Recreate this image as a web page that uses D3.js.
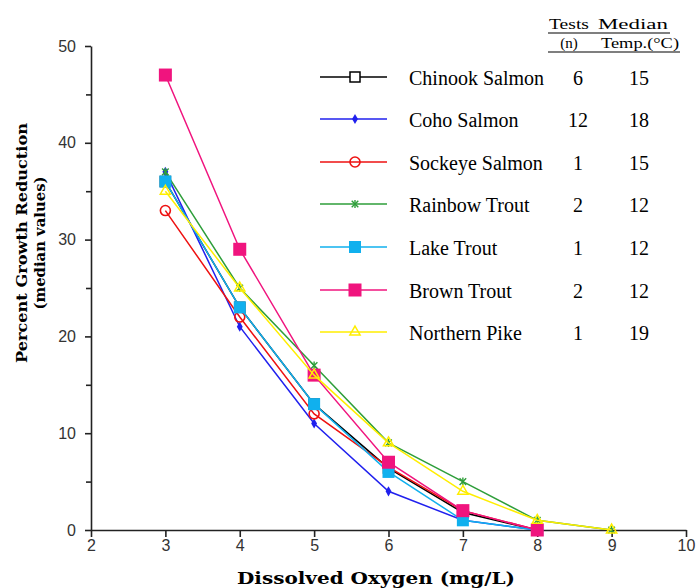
<!DOCTYPE html>
<html>
<head>
<meta charset="utf-8">
<script src="https://cdn.jsdelivr.net/npm/d3@7"></script>
<style>
  body { margin: 0; background: #fff; }
  svg { display: block; }
</style>
</head>
<body>
<svg id="chart" width="696" height="588"></svg>
<script>
const oxygen = [3, 4, 5, 6, 7, 8, 9];

const species = ['Chinook Salmon', 'Coho Salmon', 'Sockeye Salmon', 'Rainbow Trout', 'Lake Trout', 'Brown Trout', 'Northern Pike'];
const tests = ['6', '12', '1', '2', '1', '2', '1'];
const medianTemp = ['15', '18', '15', '12', '12', '12', '19'];

// median percent growth reduction at each DO level (null = no value)
const chinook = [36, 23, 13, 6.4, 1.8, 0, null];
const coho = [37, 21, 11, 4, 1, 0, null];
const sockeye = [33, 22, 12, 6.5, 2, 0, null];
const rainbow = [37, 25, 17, 9, 5, 1, 0];
const lakeTrout = [36, 23, 13, 6, 1, 0, null];
const brownTrout = [47, 29, 16, 7, 2, 0, null];
const pike = [35, 25, 16, 9, 4, 1, 0];

const seriesValues = [chinook, coho, sockeye, rainbow, lakeTrout, brownTrout, pike];
const colors = ['#000000', '#2020ee', '#ee1111', '#2e9e3a', '#10b0ee', '#f0147e', '#ffee00'];
const markers = ['openSquare', 'diamond', 'openCircle', 'star', 'square', 'bigSquare', 'triangle'];

const xTicks = [2, 3, 4, 5, 6, 7, 8, 9, 10];
const yTicks = [0, 10, 20, 30, 40, 50];
const yMinor = [5, 15, 25, 35, 45];

const svg = d3.select('#chart');
const x = d3.scaleLinear().domain([2, 10]).range([91, 686]);
const y = d3.scaleLinear().domain([0, 50]).range([530, 46]);

// axes
svg.append('g')
    .attr('transform', `translate(0,${y(0)})`)
    .call(d3.axisBottom(x).tickValues(xTicks).tickSize(7).tickPadding(3).tickSizeOuter(0));
svg.append('g')
    .attr('transform', `translate(${x(2)},0)`)
    .call(d3.axisLeft(y).tickValues(yTicks).tickSize(6).tickPadding(9).tickSizeOuter(0));
svg.append('g')
    .attr('transform', `translate(${x(2)},0)`)
    .call(d3.axisLeft(y).tickValues(yMinor).tickSize(5).tickFormat('').tickSizeOuter(0))
    .select('.domain').remove();

svg.selectAll('.domain, .tick line').attr('stroke', '#222').attr('stroke-width', 1.6);
svg.selectAll('.tick text')
    .attr('fill', '#333')
    .style('font-family', '"Liberation Sans", Arial, sans-serif')
    .style('font-size', '16px');

// axis titles
svg.append('text')
    .attr('x', 376).attr('y', 584)
    .attr('text-anchor', 'middle')
    .attr('textLength', 278)
    .attr('lengthAdjust', 'spacingAndGlyphs')
    .style('font-family', '"DejaVu Serif", serif')
    .style('font-weight', 'bold')
    .style('font-size', '17px')
    .text('Dissolved Oxygen (mg/L)');

const yTitle = svg.append('g').attr('transform', 'translate(27,243) rotate(-90)');
yTitle.append('text')
    .attr('text-anchor', 'middle')
    .attr('textLength', 240)
    .attr('lengthAdjust', 'spacingAndGlyphs')
    .style('font-family', '"DejaVu Serif", serif')
    .style('font-weight', 'bold')
    .style('font-size', '15px')
    .text('Percent Growth Reduction');
yTitle.append('text')
    .attr('y', 18)
    .attr('text-anchor', 'middle')
    .attr('textLength', 133)
    .attr('lengthAdjust', 'spacingAndGlyphs')
    .style('font-family', '"DejaVu Serif", serif')
    .style('font-weight', 'bold')
    .style('font-size', '15px')
    .text('(median values)');

function drawMarker(g, type, color, cx, cy) {
    if (type === 'openSquare') {
        g.append('rect').attr('x', cx - 5).attr('y', cy - 5).attr('width', 10).attr('height', 10)
            .attr('fill', '#fff').attr('stroke', color).attr('stroke-width', 1.5);
    } else if (type === 'diamond') {
        g.append('path').attr('d', d3.symbol(d3.symbolDiamond, 30)())
            .attr('transform', `translate(${cx},${cy})`).attr('fill', color);
    } else if (type === 'openCircle') {
        g.append('circle').attr('cx', cx).attr('cy', cy).attr('r', 5)
            .attr('fill', 'none').attr('stroke', color).attr('stroke-width', 1.6);
    } else if (type === 'star') {
        g.append('path').attr('d', d3.symbol(d3.symbolTimes, 30)())
            .attr('transform', `translate(${cx},${cy})`).attr('stroke', color).attr('stroke-width', 1.4);
        g.append('line').attr('x1', cx).attr('x2', cx).attr('y1', cy - 4).attr('y2', cy + 4)
            .attr('stroke', color).attr('stroke-width', 1.4);
    } else if (type === 'square') {
        g.append('rect').attr('x', cx - 6).attr('y', cy - 6).attr('width', 12).attr('height', 12)
            .attr('fill', color);
    } else if (type === 'bigSquare') {
        g.append('rect').attr('x', cx - 6.5).attr('y', cy - 6.5).attr('width', 13).attr('height', 13)
            .attr('fill', color);
    } else if (type === 'triangle') {
        g.append('path').attr('d', d3.symbol(d3.symbolTriangle, 45)())
            .attr('transform', `translate(${cx},${cy})`)
            .attr('fill', 'none').attr('stroke', color).attr('stroke-width', 1.5);
    }
}

const line = d3.line()
    .defined(d => d.v !== null)
    .x(d => x(d.x))
    .y(d => y(d.v));

seriesValues.forEach((vals, i) => {
    const pts = vals.map((v, j) => ({ x: oxygen[j], v: v }));
    const g = svg.append('g');
    g.append('path')
        .attr('d', line(pts))
        .attr('fill', 'none')
        .attr('stroke', colors[i])
        .attr('stroke-width', 1.5);
    pts.filter(p => p.v !== null).forEach(p => {
        drawMarker(g, markers[i], colors[i], x(p.x), y(p.v));
    });
});

// legend
const legendY = [77, 119, 162, 204, 247, 290, 332];
const serif = '"Liberation Serif", "Times New Roman", serif';
species.forEach((name, i) => {
    const g = svg.append('g');
    g.append('line').attr('x1', 320).attr('x2', 387).attr('y1', legendY[i]).attr('y2', legendY[i])
        .attr('stroke', colors[i]).attr('stroke-width', 1.5);
    drawMarker(g, markers[i], colors[i], 355, legendY[i]);
    g.append('text').attr('x', 409).attr('y', legendY[i] + 8)
        .style('font-family', serif).style('font-size', '20px').text(name);
    g.append('text').attr('x', 578).attr('y', legendY[i] + 8).attr('text-anchor', 'middle')
        .style('font-family', serif).style('font-size', '20px').text(tests[i]);
    g.append('text').attr('x', 639).attr('y', legendY[i] + 8).attr('text-anchor', 'middle')
        .style('font-family', serif).style('font-size', '20px').text(medianTemp[i]);
});

// legend header
const hdr = svg.append('g').style('font-family', serif).style('font-size', '15px');
hdr.append('text').attr('x', 569).attr('y', 29).attr('text-anchor', 'middle')
    .attr('textLength', 40).attr('lengthAdjust', 'spacingAndGlyphs').text('Tests');
hdr.append('text').attr('x', 633).attr('y', 29).attr('text-anchor', 'middle')
    .attr('textLength', 70).attr('lengthAdjust', 'spacingAndGlyphs').text('Median');
hdr.append('text').attr('x', 569).attr('y', 48).attr('text-anchor', 'middle').text('(n)');
hdr.append('text').attr('x', 640).attr('y', 48).attr('text-anchor', 'middle')
    .attr('textLength', 78).attr('lengthAdjust', 'spacingAndGlyphs').text('Temp.(\u00B0C)');
hdr.append('line').attr('x1', 548).attr('x2', 670).attr('y1', 33).attr('y2', 33).attr('stroke', '#000').attr('stroke-width', 1.2);
hdr.append('line').attr('x1', 548).attr('x2', 680).attr('y1', 52).attr('y2', 52).attr('stroke', '#000').attr('stroke-width', 1.2);
</script>
</body>
</html>
